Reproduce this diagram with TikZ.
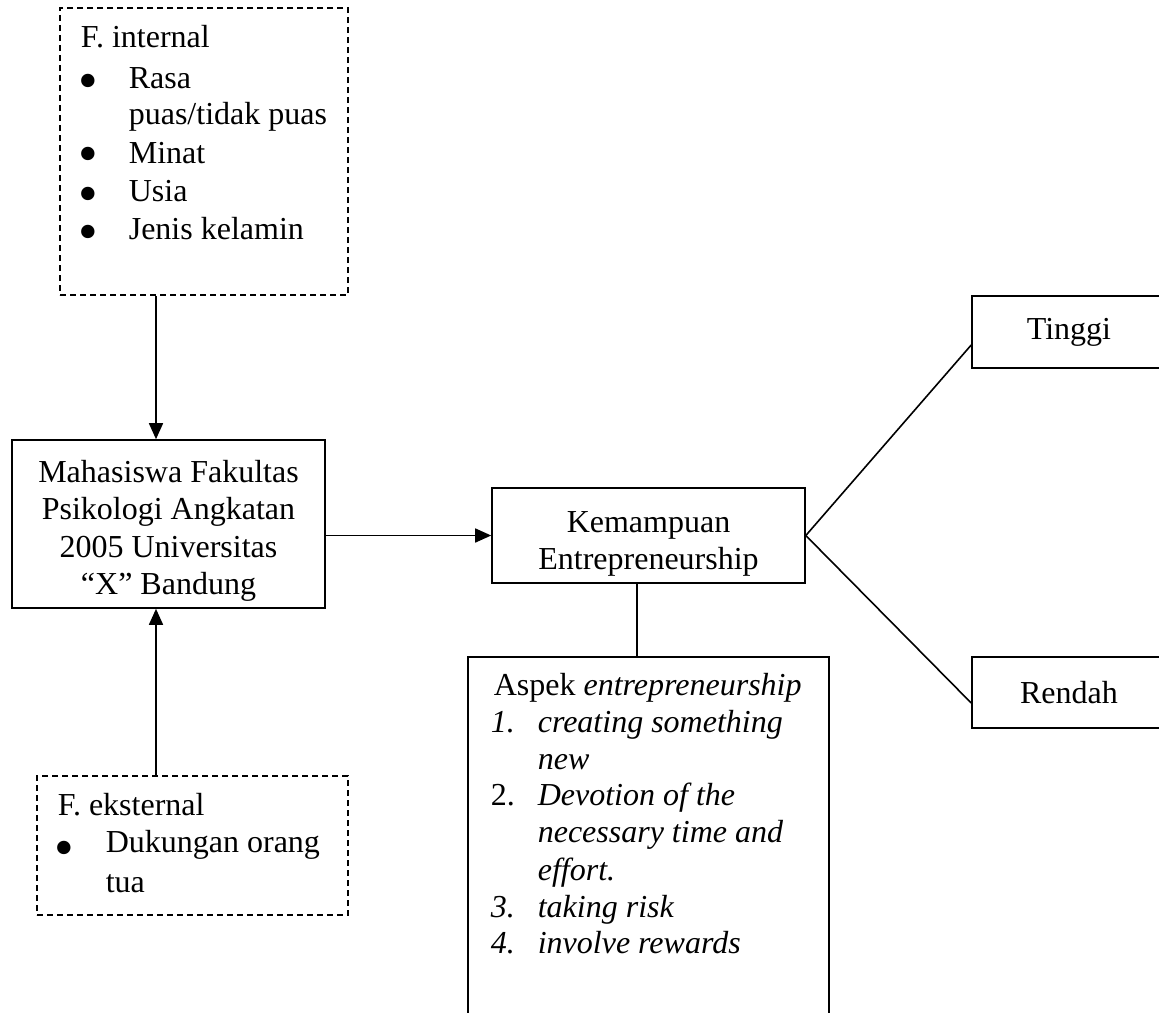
\documentclass[tikz,border=0pt]{standalone}
\usepackage{fontspec}
\setmainfont{Liberation Serif}
\usetikzlibrary{arrows.meta}
\newcommand{\bulglyph}{\scalebox{1.75}{\raisebox{0pt}[0pt][0pt]{•}}}
\begin{document}
\begin{tikzpicture}[x=0.5pt,y=-0.5pt,
  font=\fontsize{16}{18.75}\selectfont,
  line width=0.8pt,
  box/.style={draw, inner sep=0pt, align=center},
  dbox/.style={draw, dash pattern=on 3.2pt off 1.8pt, inner sep=0pt},
  ctxt/.style={inner sep=0pt, align=center},
  txt/.style={anchor=base west, inner sep=0pt},
  bul/.style={anchor=center, inner sep=0pt},
  arr/.style={-{Triangle[width=7pt,length=8pt]}}]
\useasboundingbox (0,0) rectangle (1159,1012);
\clip (0,0) rectangle (1159,1012);
% boxes
\node[dbox, minimum width=144pt, minimum height=143.5pt] (fint) at (204,151.5) {};
\node[dbox, minimum width=155.5pt, minimum height=69.5pt] (fext) at (192.5,845.5) {};
\node[box, minimum width=156.5pt, minimum height=84pt] (mid) at (168.5,524) {};
\node[ctxt] (midt) at (168.5,531) {Mahasiswa Fakultas\\Psikologi Angkatan\\2005 Universitas\\“X” Bandung};
\node[box, minimum width=156.5pt, minimum height=47.5pt] (kem) at (648.5,535.5) {};
\node[ctxt] (kemt) at (648.5,544) {Kemampuan\\Entrepreneurship};
\node[box, minimum width=180.5pt, minimum height=200pt] (asp) at (648.5,857) {};
\node[box, minimum width=97pt, minimum height=36pt] (ting) at (1069,332) {Tinggi};
\node[box, minimum width=97pt, minimum height=35.5pt] (rend) at (1069,692.5) {Rendah};
% internal factors
\node[txt] (i0) at (80,47) {F. internal};
\node[bul] (b1) at (88,99) {\bulglyph};
\node[txt] (i1) at (128,88) {Rasa};
\node[txt] (i1b) at (128,124) {puas/tidak puas};
\node[bul] (b2) at (88,172) {\bulglyph};
\node[txt] (i2) at (128,163) {Minat};
\node[bul] (b3) at (88,212) {\bulglyph};
\node[txt] (i3) at (128,201) {Usia};
\node[bul] (b4) at (88,250) {\bulglyph};
\node[txt] (i4) at (128,239) {Jenis kelamin};
% external factors
\node[txt] (e0) at (57,815) {F. eksternal};
\node[bul] (eb1) at (64,866) {\bulglyph};
\node[txt] (e1) at (105,852) {Dukungan orang};
\node[txt] (e1b) at (105,892) {tua};
% aspects
\node[txt] (a0) at (493,695) {Aspek \textit{entrepreneurship}};
\node[txt] (n1) at (490,732) {\textit{1.}};
\node[txt] (a1) at (537,732) {\textit{creating something}};
\node[txt] (a1b) at (537,769) {\textit{new}};
\node[txt] (n2) at (490,805) {2.};
\node[txt] (a2) at (537,805) {\textit{Devotion of the}};
\node[txt] (a2b) at (537,842) {\textit{necessary time and}};
\node[txt] (a2c) at (537,880) {\textit{effort.}};
\node[txt] (n3) at (490,917) {\textit{3.}};
\node[txt] (a3) at (537,917) {\textit{taking risk}};
\node[txt] (n4) at (490,953) {\textit{4.}};
\node[txt] (a4) at (537,953) {\textit{involve rewards}};
% helper coordinates
\coordinate (ax) at (156,0);
\coordinate (bx) at (637,0);
\coordinate (t1) at (0,345);
\coordinate (r1) at (0,703);
% connectors
\draw[arr] (ax |- fint.south) -- (ax |- mid.north);
\draw[arr] (ax |- fext.north) -- (ax |- mid.south);
\draw[arr] (kem.west -| mid.east) -- (kem.west);
\draw (bx |- kem.south) -- (bx |- asp.north);
\draw (kem.east) -- (ting.west |- t1);
\draw (kem.east) -- (rend.west |- r1);
\end{tikzpicture}
\end{document}
